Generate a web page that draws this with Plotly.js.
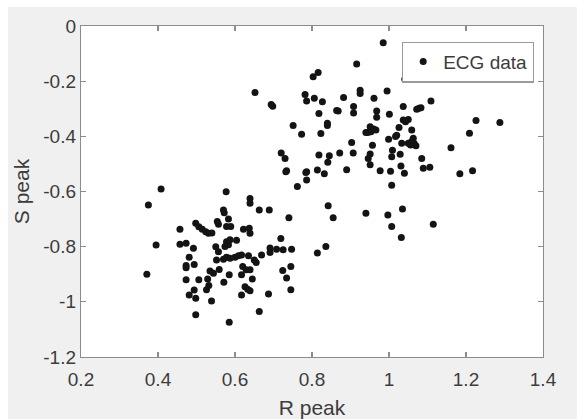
<!DOCTYPE html>
<html>
<head>
<meta charset="utf-8">
<script src="https://cdn.plot.ly/plotly-3.0.1.min.js"></script>
<style>
html,body{margin:0;padding:0;background:#ffffff;}
#chart{position:absolute;left:8px;top:7px;width:569px;height:412px;}
</style>
</head>
<body>
<div id="chart"></div>
<script>
// R peak values (x) and S peak values (y)
const rPeak = [
  // lower cluster
  0.408,0.375,0.371,0.395,0.457,0.457,0.473,0.492,0.481,0.473,
  0.473,0.494,0.473,0.506,0.529,0.532,0.526,0.535,0.544,0.494,
  0.481,0.498,0.539,0.498,0.498,0.506,0.515,0.524,0.531,0.540,
  0.550,0.577,0.639,0.639,0.663,0.689,0.740,0.570,0.572,0.583,
  0.554,0.557,0.578,0.589,0.622,0.637,0.639,0.719,0.691,0.691,
  0.708,0.725,0.747,0.578,0.583,0.574,0.587,0.604,0.557,0.570,
  0.578,0.587,0.600,0.609,0.617,0.635,0.650,0.655,0.669,0.559,
  0.585,0.571,0.620,0.629,0.639,0.617,0.645,0.626,0.633,0.639,
  0.617,0.687,0.663,0.585,0.724,0.745,0.734,0.745,0.552,0.762,
  0.732,0.786,0.786,
  // upper cluster
  0.985,0.916,0.803,0.816,1.041,0.652,0.925,0.925,0.995,0.782,
  0.786,0.806,0.827,0.882,0.961,1.109,0.694,0.698,0.864,0.868,
  0.908,0.908,0.968,0.968,1.001,1.037,1.072,1.078,1.083,0.818,
  0.840,0.840,1.037,1.050,1.043,0.751,1.026,0.951,0.960,0.966,
  0.940,0.945,0.953,0.773,0.823,1.020,1.017,1.059,0.999,1.063,
  1.059,1.065,1.070,1.056,1.050,0.903,0.957,1.033,1.009,0.720,
  0.730,0.818,0.845,0.841,0.872,0.907,0.951,0.946,0.951,1.007,
  1.029,1.085,1.031,1.089,1.106,0.734,0.784,0.814,0.832,0.890,
  0.977,1.004,1.040,1.007,0.842,0.855,0.940,0.997,1.035,1.007,
  1.115,1.032,0.836,0.814,1.226,1.288,1.209,1.161,1.184,1.217
];
const sPeak = [
  // lower cluster
  -0.591,-0.649,-0.900,-0.794,-0.737,-0.791,-0.788,-0.806,-0.838,-0.868,
  -0.876,-0.865,-0.920,-0.920,-0.917,-0.941,-0.956,-0.888,-0.896,-0.957,
  -0.975,-0.987,-0.997,-1.047,-0.715,-0.728,-0.737,-0.746,-0.751,-0.750,
  -0.800,-0.601,-0.625,-0.643,-0.667,-0.667,-0.695,-0.667,-0.677,-0.700,
  -0.709,-0.719,-0.727,-0.727,-0.737,-0.733,-0.751,-0.770,-0.805,-0.821,
  -0.809,-0.811,-0.809,-0.782,-0.793,-0.799,-0.775,-0.777,-0.818,-0.846,
  -0.838,-0.842,-0.838,-0.833,-0.830,-0.833,-0.848,-0.857,-0.830,-0.883,
  -0.902,-0.929,-0.872,-0.884,-0.884,-0.902,-0.917,-0.945,-0.954,-0.960,
  -0.975,-0.972,-1.035,-1.074,-0.886,-0.872,-0.914,-0.956,-0.848,-0.582,
  -0.528,-0.528,-0.558,
  // upper cluster
  -0.061,-0.138,-0.184,-0.169,-0.193,-0.241,-0.233,-0.245,-0.236,-0.248,
  -0.272,-0.262,-0.275,-0.259,-0.262,-0.272,-0.285,-0.291,-0.306,-0.308,
  -0.292,-0.315,-0.308,-0.331,-0.320,-0.292,-0.302,-0.298,-0.296,-0.317,
  -0.353,-0.361,-0.341,-0.339,-0.347,-0.361,-0.368,-0.365,-0.373,-0.377,
  -0.386,-0.386,-0.383,-0.392,-0.390,-0.396,-0.401,-0.377,-0.411,-0.407,
  -0.419,-0.425,-0.434,-0.431,-0.425,-0.422,-0.432,-0.425,-0.450,-0.460,
  -0.480,-0.468,-0.470,-0.494,-0.460,-0.460,-0.464,-0.480,-0.503,-0.474,
  -0.465,-0.480,-0.508,-0.516,-0.512,-0.525,-0.531,-0.522,-0.536,-0.521,
  -0.525,-0.527,-0.534,-0.577,-0.652,-0.695,-0.679,-0.685,-0.663,-0.727,
  -0.719,-0.767,-0.799,-0.823,-0.343,-0.350,-0.389,-0.441,-0.536,-0.525
];
const xTickVals = [0.2,0.4,0.6,0.8,1.0,1.2,1.4];
const xTickText = ["0.2","0.4","0.6","0.8","1","1.2","1.4"];
const yTickVals = [-1.2,-1.0,-0.8,-0.6,-0.4,-0.2,0];
const yTickText = ["-1.2","-1","-0.8","-0.6","-0.4","-0.2","0"];

const fontFam = "Liberation Sans, Arial, sans-serif";
const axisCommon = {
  showline: true, linecolor: "#8c8c8c", linewidth: 1.2,
  mirror: "ticks", ticks: "inside", ticklen: 5, tickcolor: "#8c8c8c", tickwidth: 1.2,
  showgrid: false, zeroline: false,
  tickfont: {family: fontFam, size: 19, color: "#3c3c3c"},
  tickmode: "array"
};

const trace = {
  x: rPeak, y: sPeak, type: "scatter", mode: "markers", name: "ECG data",
  marker: {symbol: "circle", size: 7, color: "#141414"}
};

const layout = {
  width: 569, height: 412,
  paper_bgcolor: "#f0f0f0", plot_bgcolor: "#ffffff",
  margin: {l: 73, r: 34, t: 19, b: 62},
  showlegend: true,
  legend: {
    x: 0.9805, y: 0.953, xanchor: "right", yanchor: "top",
    bgcolor: "#ffffff", bordercolor: "#9a9a9a", borderwidth: 1.2,
    font: {family: fontFam, size: 19, color: "#3c3c3c"},
    tracegroupgap: 0, itemwidth: 30
  },
  xaxis: Object.assign({}, axisCommon, {
    range: [0.2, 1.4], tickvals: xTickVals, ticktext: xTickText,
    ticklabelstandoff: 5,
    title: {text: "R peak", font: {family: fontFam, size: 21, color: "#3c3c3c"}, standoff: 12}
  }),
  yaxis: Object.assign({}, axisCommon, {
    range: [-1.2, 0], tickvals: yTickVals, ticktext: yTickText,
    title: {text: "S peak", font: {family: fontFam, size: 21, color: "#3c3c3c"}, standoff: 8}
  })
};

Plotly.newPlot("chart", [trace], layout, {displayModeBar: false, staticPlot: true});
</script>
</body>
</html>
